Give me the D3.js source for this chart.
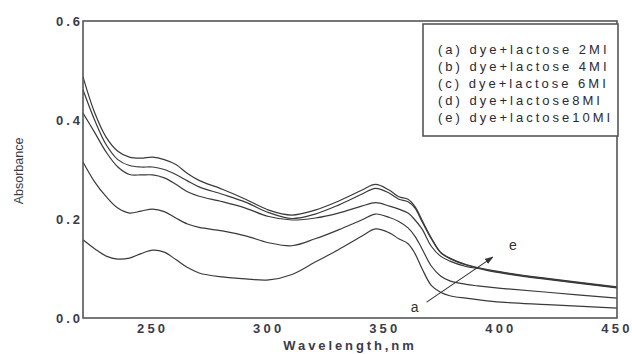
<!DOCTYPE html>
<html>
<head>
<meta charset="utf-8">
<script src="https://cdn.jsdelivr.net/npm/d3@7"></script>
<style>
  body { margin: 0; background: #fff; }
  svg text { font-family: "Liberation Sans", Arial, sans-serif; }
</style>
</head>
<body>
<svg id="chart" width="632" height="354"></svg>
<script>
// wavelength samples (nm) shared by every series
const wavelengths = [220, 225, 230, 235, 240, 245, 250, 255, 260, 265, 270, 280, 290, 300, 310, 320, 330, 340, 346, 352, 356, 360, 363, 366, 370, 374, 378, 385, 390, 400, 420, 450];

const seriesA = [0.158, 0.140, 0.125, 0.119, 0.121, 0.130, 0.137, 0.133, 0.118, 0.102, 0.091, 0.083, 0.079, 0.077, 0.088, 0.113, 0.138, 0.165, 0.180, 0.172, 0.160, 0.150, 0.130, 0.100, 0.066, 0.052, 0.045, 0.040, 0.037, 0.032, 0.027, 0.020];
const seriesB = [0.315, 0.275, 0.245, 0.222, 0.212, 0.216, 0.220, 0.215, 0.202, 0.190, 0.183, 0.176, 0.166, 0.152, 0.146, 0.160, 0.178, 0.198, 0.210, 0.203, 0.195, 0.182, 0.165, 0.140, 0.105, 0.085, 0.075, 0.068, 0.065, 0.060, 0.052, 0.040];
const seriesC = [0.414, 0.375, 0.335, 0.305, 0.290, 0.289, 0.289, 0.283, 0.270, 0.255, 0.246, 0.235, 0.222, 0.205, 0.198, 0.202, 0.212, 0.226, 0.233, 0.226, 0.220, 0.212, 0.198, 0.180, 0.145, 0.125, 0.115, 0.104, 0.100, 0.091, 0.078, 0.061];
const seriesD = [0.461, 0.400, 0.350, 0.320, 0.308, 0.305, 0.305, 0.300, 0.290, 0.277, 0.265, 0.250, 0.234, 0.213, 0.201, 0.210, 0.228, 0.250, 0.262, 0.252, 0.240, 0.235, 0.222, 0.195, 0.160, 0.132, 0.120, 0.107, 0.101, 0.092, 0.079, 0.062];
const seriesE = [0.487, 0.415, 0.365, 0.337, 0.325, 0.323, 0.325, 0.320, 0.310, 0.292, 0.278, 0.260, 0.240, 0.218, 0.208, 0.218, 0.236, 0.258, 0.270, 0.258, 0.245, 0.240, 0.225, 0.198, 0.162, 0.133, 0.121, 0.108, 0.102, 0.093, 0.080, 0.063];

const legendLabels = ["(a) dye+lactose 2MI", "(b) dye+lactose 4MI", "(c) dye+lactose 6MI", "(d) dye+lactose8MI", "(e) dye+lactose10MI"];
const xTicks = [250, 300, 350, 400, 450];
const yTicks = [0.0, 0.2, 0.4, 0.6];

// arrow a -> e, in data units
const arrowFrom = [368, 0.032];
const arrowTo = [396.5, 0.123];

const svg = d3.select("#chart");
const margin = { left: 83, top: 21, right: 15, bottom: 36 };
const width = 632 - margin.left - margin.right;
const height = 354 - margin.top - margin.bottom;

const x = d3.scaleLinear().domain([220, 450]).range([margin.left, margin.left + width]);
const y = d3.scaleLinear().domain([0, 0.6]).range([margin.top + height, margin.top]);

svg.append("defs").append("marker")
    .attr("id", "head")
    .attr("viewBox", "0 0 10 10")
    .attr("refX", 9).attr("refY", 5)
    .attr("markerWidth", 8).attr("markerHeight", 8)
    .attr("orient", "auto")
  .append("path")
    .attr("d", "M0,1.5 L10,5 L0,8.5 Z")
    .attr("fill", "#333");

const line = d3.line()
    .curve(d3.curveCatmullRom)
    .x((d, i) => x(wavelengths[i]))
    .y(d => y(d));

[seriesA, seriesB, seriesC, seriesD, seriesE].forEach(s => {
  svg.append("path")
      .datum(s)
      .attr("d", line)
      .attr("fill", "none")
      .attr("stroke", "#3a3a3a")
      .attr("stroke-width", 1.2);
});

// frame
svg.append("rect")
    .attr("x", margin.left).attr("y", margin.top)
    .attr("width", width).attr("height", height)
    .attr("fill", "none")
    .attr("stroke", "#555")
    .attr("stroke-width", 1.6);

// tick labels
svg.append("g").selectAll("text")
  .data(xTicks).join("text")
    .attr("x", d => x(d))
    .attr("y", margin.top + height + 15)
    .attr("text-anchor", "middle")
    .attr("font-size", 13)
    .attr("font-weight", "bold")
    .attr("letter-spacing", 3.2)
    .attr("fill", "#3b3b4a")
    .text(d => d);

svg.append("g").selectAll("text")
  .data(yTicks).join("text")
    .attr("x", margin.left)
    .attr("y", d => y(d) + 5)
    .attr("text-anchor", "end")
    .attr("font-size", 13)
    .attr("font-weight", "bold")
    .attr("letter-spacing", 3)
    .attr("fill", "#3b3b4a")
    .text(d => d.toFixed(1));

// axis titles
svg.append("text")
    .attr("x", 350).attr("y", 350)
    .attr("text-anchor", "middle")
    .attr("font-size", 13)
    .attr("font-weight", "bold")
    .attr("letter-spacing", 2.9)
    .attr("fill", "#3b3b4a")
    .text("Wavelength,nm");

svg.append("text")
    .attr("transform", "translate(23,171) rotate(-90)")
    .attr("text-anchor", "middle")
    .attr("font-family", "'Liberation Sans Narrow', 'Liberation Sans', sans-serif")
    .attr("font-stretch", "condensed")
    .attr("font-size", 12.5)
    .attr("fill", "#3b3b4a")
    .text("Absorbance");

// a -> e arrow
svg.append("line")
    .attr("x1", x(arrowFrom[0])).attr("y1", y(arrowFrom[1]))
    .attr("x2", x(arrowTo[0])).attr("y2", y(arrowTo[1]))
    .attr("stroke", "#333")
    .attr("stroke-width", 1.1)
    .attr("marker-end", "url(#head)");

svg.append("text")
    .attr("x", x(arrowFrom[0]) - 12).attr("y", y(arrowFrom[1]) + 10)
    .attr("text-anchor", "middle")
    .attr("font-size", 14)
    .attr("fill", "#333")
    .text("a");

svg.append("text")
    .attr("x", x(arrowTo[0]) + 20).attr("y", y(arrowTo[1]) - 7)
    .attr("text-anchor", "middle")
    .attr("font-size", 14)
    .attr("fill", "#333")
    .text("e");

// legend
const lg = svg.append("g");
lg.append("rect")
    .attr("x", 423).attr("y", 24)
    .attr("width", 195).attr("height", 112)
    .attr("fill", "#fff")
    .attr("stroke", "#555")
    .attr("stroke-width", 1.6);

lg.selectAll("text")
  .data(legendLabels).join("text")
    .attr("x", 438)
    .attr("y", (d, i) => 54 + i * 17)
    .attr("font-size", 13)
    .attr("letter-spacing", 3)
    .attr("fill", "#2a2a36")
    .text(d => d);
</script>
</body>
</html>
